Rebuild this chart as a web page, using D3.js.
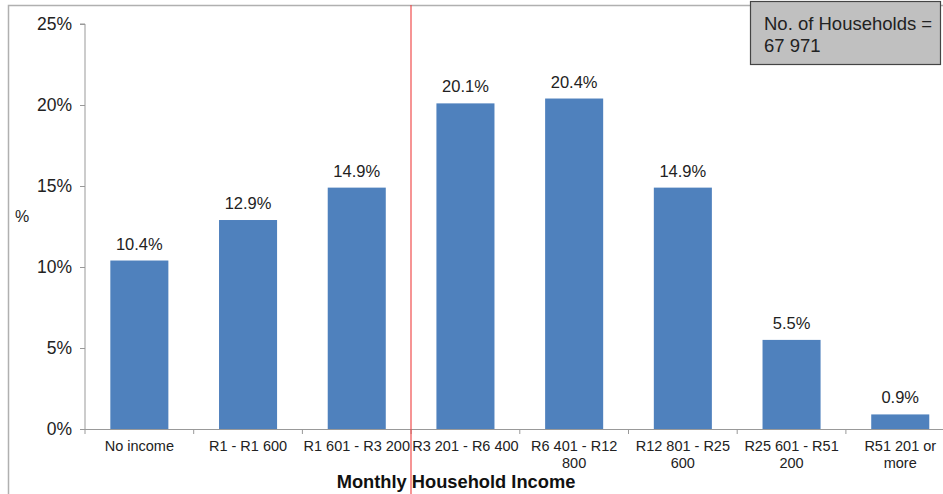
<!DOCTYPE html>
<html>
<head>
<meta charset="utf-8">
<script src="https://cdn.jsdelivr.net/npm/d3@7"></script>
<style>
  html, body { margin: 0; padding: 0; background: #fff; }
  svg { display: block; font-family: "Liberation Sans", Arial, sans-serif; }
</style>
</head>
<body>
<svg id="chart" width="943" height="494"></svg>
<script>
// Monthly household income distribution
const categories = [
  ["No income"],
  ["R1 - R1 600"],
  ["R1 601 - R3 200"],
  ["R3 201 - R6 400"],
  ["R6 401 - R12", "800"],
  ["R12 801 - R25", "600"],
  ["R25 601 - R51", "200"],
  ["R51 201 or", "more"]
];
const values = [10.4, 12.9, 14.9, 20.1, 20.4, 14.9, 5.5, 0.9];
const yTicks = [0, 5, 10, 15, 20, 25];
const households = "67 971";

const svg = d3.select("#chart");
const W = 943, H = 494;

// outer chart frame
svg.append("rect")
  .attr("x", 8.5).attr("y", 5.5)
  .attr("width", W).attr("height", H)
  .attr("fill", "none").attr("stroke", "#b0b0b0").attr("stroke-width", 1.5);

const x0 = 85, bandW = 108.7;
const x = d3.scaleBand()
  .domain(d3.range(categories.length))
  .range([x0, x0 + bandW * categories.length])
  .paddingInner(0.466).paddingOuter(0.233);
const y = d3.scaleLinear().domain([0, 25]).range([429, 24]);

// y axis
const yAxis = svg.append("g")
  .attr("transform", `translate(${x0},0)`)
  .call(d3.axisLeft(y).tickValues(yTicks).tickSize(5).tickPadding(8)
    .tickFormat(d => d + "%"));
yAxis.select(".domain").attr("stroke", "#999").attr("d", `M-5,${y(25)}H0V${y(0)}`);
yAxis.selectAll(".tick line").attr("stroke", "#999");
yAxis.selectAll(".tick text")
  .attr("font-size", 17.5).attr("fill", "#222").attr("dy", "0.34em")
  .attr("font-family", "Liberation Sans, Arial, sans-serif");

// x axis line and category separators
const xAxis = svg.append("g");
xAxis.append("line")
  .attr("x1", x0).attr("x2", W).attr("y1", y(0) + 0.5).attr("y2", y(0) + 0.5)
  .attr("stroke", "#999");
xAxis.selectAll("line.sep")
  .data(d3.range(categories.length + 1))
  .join("line").attr("class", "sep")
  .attr("x1", i => x0 + i * bandW).attr("x2", i => x0 + i * bandW)
  .attr("y1", y(0)).attr("y2", y(0) + 5)
  .attr("stroke", "#999");

// bars
svg.selectAll("rect.bar")
  .data(values)
  .join("rect").attr("class", "bar")
  .attr("x", (d, i) => x(i))
  .attr("width", x.bandwidth())
  .attr("y", d => y(d))
  .attr("height", d => y(0) - y(d))
  .attr("fill", "#4f81bd");

// value labels
svg.selectAll("text.val")
  .data(values)
  .join("text").attr("class", "val")
  .attr("x", (d, i) => x(i) + x.bandwidth() / 2)
  .attr("y", d => y(d) - 11)
  .attr("text-anchor", "middle")
  .attr("font-size", 16.5).attr("fill", "#222")
  .text(d => d.toFixed(1) + "%");

// category labels
const cat = svg.selectAll("text.cat")
  .data(categories)
  .join("text").attr("class", "cat")
  .attr("text-anchor", "middle")
  .attr("font-size", 14.5).attr("fill", "#222");
cat.selectAll("tspan")
  .data((d, i) => d.map(line => ({ line, i })))
  .join("tspan")
  .attr("x", d => x(d.i) + x.bandwidth() / 2)
  .attr("y", (d, j) => 451 + j * 17)
  .text(d => d.line);

// axis titles
svg.append("text")
  .attr("x", 456).attr("y", 488)
  .attr("text-anchor", "middle")
  .attr("font-size", 18.3).attr("font-weight", "bold").attr("fill", "#111")
  .text("Monthly Household Income");
svg.append("text")
  .attr("x", 15).attr("y", 222)
  .attr("font-size", 16).attr("fill", "#222")
  .text("%");

// household count box
svg.append("rect")
  .attr("x", 750.5).attr("y", 1.5)
  .attr("width", 190).attr("height", 63)
  .attr("fill", "#c0c0c0").attr("stroke", "#444").attr("stroke-width", 1.2);
svg.append("text")
  .attr("x", 764).attr("y", 30)
  .attr("font-size", 18.5).attr("fill", "#222")
  .text("No. of Households =");
svg.append("text")
  .attr("x", 764).attr("y", 51.5)
  .attr("font-size", 18.5).attr("fill", "#222")
  .text(households);

// red divider line
svg.append("line")
  .attr("x1", 411).attr("x2", 411).attr("y1", 5).attr("y2", H)
  .attr("stroke", "#f04040").attr("stroke-width", 1.3).attr("opacity", 0.85);
</script>
</body>
</html>
